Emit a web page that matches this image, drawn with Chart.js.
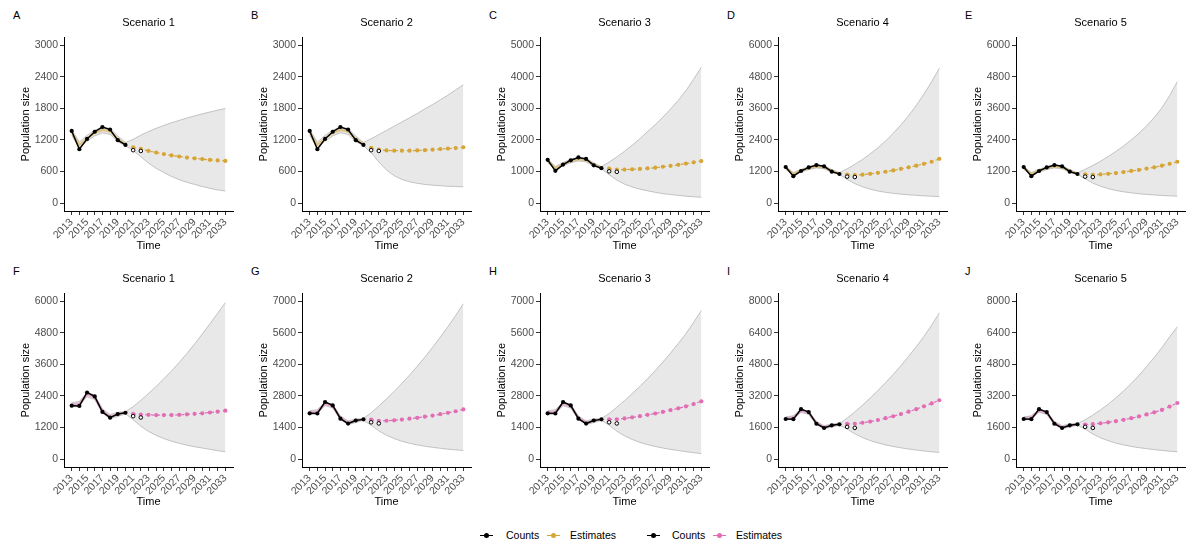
<!DOCTYPE html>
<html>
<head>
<meta charset="utf-8">
<script src="https://cdn.jsdelivr.net/npm/chart.js@4.4.0/dist/chart.umd.min.js"></script>
<style>
  body { margin: 0; background: #fff; font-family: "Liberation Sans", Arial, sans-serif; }
  #wrap { position: relative; width: 1189px; height: 546px; overflow: hidden; }
  .panel { position: absolute; width: 238px; height: 256px; }
  .tag { position: absolute; font-size: 11px; line-height: 11px; color: #000; }
  .legend { position: absolute; top: 529px; font-size: 10.5px; line-height: 12px; color: #000; }
  .key { position: absolute; top: 535px; width: 13px; height: 0; border-top: 1.5px solid #000; }
  .key::after { content: ""; position: absolute; left: 4px; top: -3.3px; width: 5px; height: 5px; border-radius: 50%; background: inherit; }
</style>
</head>
<body>
<div id="wrap"></div>
<script>
// years on the x axis
const years = [2013, 2014, 2015, 2016, 2017, 2018, 2019, 2020, 2021, 2022, 2023,
  2024, 2025, 2026, 2027, 2028, 2029, 2030, 2031, 2032, 2033];
const histYears = years.slice(0, 8);
const foreYears = years.slice(8);
const openYears = [2021, 2022];

// top row (A-E): observed counts and fitted estimates
const countsTop = [1370, 1022, 1219, 1355, 1445, 1397, 1194, 1105];
const openTop = [1005, 990];
const estHistTop = [1340, 1100, 1230, 1330, 1390, 1360, 1220, 1120];
const upperHistTop = [1395, 1160, 1285, 1385, 1445, 1415, 1275, 1150];
const lowerHistTop = [1285, 1045, 1175, 1275, 1335, 1305, 1165, 1090];

// bottom row (F-J)
const countsBottom = [2030, 2020, 2530, 2380, 1790, 1575, 1710, 1760];
const openBottom = [1630, 1580];
const estHistBottom = [2060, 2110, 2450, 2340, 1830, 1610, 1700, 1760];
const upperHistBottom = [2140, 2190, 2530, 2420, 1910, 1690, 1780, 1800];
const lowerHistBottom = [1980, 2030, 2370, 2260, 1750, 1530, 1620, 1720];

// forecasts 2021-2033 per panel
const estA = [1060, 1030, 990, 960, 930, 905, 885, 865, 850, 835, 820, 810, 800];
const upperA = [1210, 1290, 1360, 1420, 1475, 1525, 1570, 1615, 1655, 1695, 1730, 1765, 1795];
const lowerA = [1000, 880, 760, 660, 580, 505, 445, 395, 355, 315, 280, 250, 230];

const estB = [1050, 1015, 1000, 995, 995, 995, 1000, 1005, 1015, 1025, 1035, 1045, 1060];
const upperB = [1220, 1300, 1380, 1460, 1540, 1620, 1700, 1790, 1870, 1960, 2050, 2150, 2245];
const lowerB = [960, 780, 630, 520, 450, 405, 375, 355, 340, 330, 320, 315, 310];

const estC = [1090, 1060, 1060, 1070, 1080, 1100, 1120, 1150, 1180, 1210, 1250, 1290, 1330];
const upperC = [1300, 1460, 1640, 1830, 2040, 2260, 2480, 2720, 2980, 3250, 3560, 3920, 4300];
const lowerC = [900, 730, 600, 510, 440, 390, 340, 300, 270, 245, 220, 200, 185];

const estD = [1080, 1060, 1080, 1110, 1150, 1190, 1240, 1300, 1360, 1420, 1490, 1570, 1680];
const upperD = [1300, 1470, 1660, 1870, 2100, 2360, 2650, 2970, 3320, 3710, 4140, 4610, 5120];
const lowerD = [900, 740, 620, 530, 460, 410, 370, 340, 315, 295, 275, 260, 245];

const estE = [1090, 1070, 1090, 1110, 1140, 1180, 1220, 1260, 1310, 1360, 1420, 1490, 1570];
const upperE = [1280, 1430, 1590, 1770, 1960, 2170, 2400, 2650, 2930, 3250, 3620, 4080, 4610];
const lowerE = [920, 760, 640, 550, 480, 430, 390, 355, 330, 310, 290, 275, 265];

const estF = [1720, 1690, 1680, 1670, 1670, 1670, 1680, 1700, 1720, 1740, 1770, 1800, 1840];
const upperF = [1990, 2230, 2490, 2760, 3050, 3350, 3670, 4010, 4370, 4750, 5140, 5540, 5940];
const lowerF = [1500, 1250, 1050, 900, 780, 680, 600, 530, 470, 420, 370, 320, 280];

const estG = [1750, 1700, 1700, 1720, 1750, 1790, 1830, 1880, 1930, 1990, 2050, 2120, 2200];
const upperG = [2050, 2350, 2670, 3000, 3350, 3720, 4110, 4520, 4950, 5400, 5870, 6360, 6880];
const lowerG = [1500, 1250, 1060, 910, 790, 700, 630, 570, 520, 480, 440, 410, 385];

const estH = [1760, 1760, 1800, 1850, 1900, 1960, 2020, 2090, 2170, 2250, 2340, 2440, 2560];
const upperH = [2020, 2300, 2590, 2900, 3220, 3560, 3920, 4300, 4700, 5120, 5560, 6060, 6580];
const lowerH = [1500, 1240, 1030, 870, 740, 640, 560, 490, 430, 380, 330, 285, 245];

const estI = [1780, 1790, 1840, 1900, 1980, 2070, 2170, 2280, 2400, 2530, 2670, 2820, 2980];
const upperI = [2070, 2390, 2730, 3090, 3470, 3870, 4290, 4730, 5200, 5690, 6210, 6780, 7400];
const lowerI = [1520, 1280, 1090, 940, 820, 720, 640, 570, 510, 460, 410, 370, 340];

const estJ = [1750, 1770, 1810, 1860, 1920, 1990, 2070, 2160, 2260, 2370, 2490, 2660, 2840];
const upperJ = [1990, 2230, 2490, 2780, 3100, 3450, 3830, 4240, 4680, 5150, 5650, 6190, 6700];
const lowerJ = [1520, 1270, 1080, 930, 810, 720, 640, 580, 530, 480, 440, 400, 370];

// y axis ticks per panel
const ticksA = [0, 600, 1200, 1800, 2400, 3000];
const ticksC = [0, 1000, 2000, 3000, 4000, 5000];
const ticksD = [0, 1200, 2400, 3600, 4800, 6000];
const ticksG = [0, 1400, 2800, 4200, 5600, 7000];
const ticksI = [0, 1600, 3200, 4800, 6400, 8000];

const rows = [
  { counts: countsTop, open: openTop, est: estHistTop, upper: upperHistTop, lower: lowerHistTop,
    color: '#d6a535', faint: 'rgba(214,165,53,0.55)' },
  { counts: countsBottom, open: openBottom, est: estHistBottom, upper: upperHistBottom, lower: lowerHistBottom,
    color: '#e26db4', faint: 'rgba(226,109,180,0.5)' }
];

const panels = [
  { tag: 'A', title: 'Scenario 1', row: 0, col: 0, ticks: ticksA, est: estA, upper: upperA, lower: lowerA },
  { tag: 'B', title: 'Scenario 2', row: 0, col: 1, ticks: ticksA, est: estB, upper: upperB, lower: lowerB },
  { tag: 'C', title: 'Scenario 3', row: 0, col: 2, ticks: ticksC, est: estC, upper: upperC, lower: lowerC },
  { tag: 'D', title: 'Scenario 4', row: 0, col: 3, ticks: ticksD, est: estD, upper: upperD, lower: lowerD },
  { tag: 'E', title: 'Scenario 5', row: 0, col: 4, ticks: ticksD, est: estE, upper: upperE, lower: lowerE },
  { tag: 'F', title: 'Scenario 1', row: 1, col: 0, ticks: ticksD, est: estF, upper: upperF, lower: lowerF },
  { tag: 'G', title: 'Scenario 2', row: 1, col: 1, ticks: ticksG, est: estG, upper: upperG, lower: lowerG },
  { tag: 'H', title: 'Scenario 3', row: 1, col: 2, ticks: ticksG, est: estH, upper: upperH, lower: lowerH },
  { tag: 'I', title: 'Scenario 4', row: 1, col: 3, ticks: ticksI, est: estI, upper: upperI, lower: lowerI },
  { tag: 'J', title: 'Scenario 5', row: 1, col: 4, ticks: ticksI, est: estJ, upper: upperJ, lower: lowerJ }
];

const FONT = '"Liberation Sans", Arial, sans-serif';
const wrap = document.getElementById('wrap');

function pts(xs, ys) {
  return ys.map((y, i) => ({ x: xs[i], y: y }));
}

function axisGrid() {
  return { drawOnChartArea: false, tickLength: 4, color: '#333', tickWidth: 1 };
}

function makePanel(p) {
  const r = rows[p.row];
  const left = p.col * 238;
  const top = p.row * 256;

  const tag = document.createElement('div');
  tag.className = 'tag';
  tag.textContent = p.tag;
  tag.style.left = (left + 13) + 'px';
  tag.style.top = (top + 10) + 'px';
  wrap.appendChild(tag);

  const box = document.createElement('div');
  box.className = 'panel';
  box.style.left = left + 'px';
  box.style.top = top + 'px';
  const canvas = document.createElement('canvas');
  canvas.width = 238;
  canvas.height = 256;
  box.appendChild(canvas);
  wrap.appendChild(box);

  const yMax = p.ticks[p.ticks.length - 1];

  new Chart(canvas, {
    type: 'line',
    data: {
      datasets: [
        // ribbon (drawn underneath: highest order)
        { data: pts(years, r.lower.concat(p.lower)), borderColor: '#b5b5b5', borderWidth: 0.8,
          pointRadius: 0, fill: false, order: 6 },
        { data: pts(years, r.upper.concat(p.upper)), borderColor: '#b5b5b5', borderWidth: 0.8,
          pointRadius: 0, fill: '-1', backgroundColor: '#e8e8e8', order: 5 },
        // fitted estimates and forecast
        { data: pts(histYears, r.est), borderColor: r.faint, borderWidth: 2.2, pointRadius: 0, order: 4 },
        { data: pts(foreYears, p.est), borderColor: r.color, borderWidth: 1.2, borderDash: [3, 3],
          pointRadius: 2.1, pointBorderWidth: 0, pointBackgroundColor: r.color, order: 3 },
        // counts
        { data: pts(histYears, r.counts), borderColor: '#000', borderWidth: 1.5,
          pointRadius: 2.1, pointBorderWidth: 0, pointBackgroundColor: '#000', order: 2 },
        { data: pts(openYears, r.open), showLine: false, pointRadius: 1.8,
          pointBorderWidth: 1, pointBorderColor: '#000', pointBackgroundColor: '#fff', order: 1 }
      ]
    },
    options: {
      responsive: false,
      animation: false,
      layout: { padding: { left: 0, right: 1, top: 0, bottom: 0 } },
      plugins: {
        legend: { display: false },
        tooltip: { enabled: false },
        filler: { drawTime: 'beforeDatasetsDraw' },
        title: { display: true, fullSize: false, text: p.title, color: '#000',
          font: { size: 11, family: FONT, weight: 'normal' }, padding: { top: 16, bottom: 8 } }
      },
      scales: {
        x: {
          type: 'linear', min: 2012, max: 2034,
          afterBuildTicks: (s) => { s.ticks = years.map((v) => ({ value: v })); },
          afterFit: (s) => { s.height = 45; },
          ticks: {
            autoSkip: false, minRotation: 45, maxRotation: 45, padding: 1,
            color: '#4d4d4d', font: { size: 10.5, family: FONT },
            callback: (v) => ((v - 2013) % 2 === 0 ? String(v) : '')
          },
          grid: axisGrid(),
          border: { color: '#000', width: 1 },
          title: { display: true, text: 'Time', color: '#000',
            font: { size: 11, family: FONT }, padding: { top: 0, bottom: 3 } }
        },
        y: {
          min: -0.05 * yMax, max: 1.05 * yMax,
          afterBuildTicks: (s) => { s.ticks = p.ticks.map((v) => ({ value: v })); },
          afterFit: (s) => { s.width = 64; },
          ticks: { autoSkip: false, padding: 2, color: '#4d4d4d', font: { size: 10.5, family: FONT },
            callback: (v) => String(v) },
          grid: axisGrid(),
          border: { color: '#000', width: 1 },
          title: { display: true, text: 'Population size', color: '#000',
            font: { size: 11, family: FONT }, padding: { top: 19, bottom: 0 } }
        }
      }
    }
  });
}

panels.forEach((p) => {
  makePanel(p);
});

// shared legend below the panels
const legendItems = [
  { key: 480, text: 506, label: 'Counts', color: '#000' },
  { key: 547, text: 570, label: 'Estimates', color: rows[0].color },
  { key: 647, text: 672, label: 'Counts', color: '#000' },
  { key: 713, text: 736, label: 'Estimates', color: rows[1].color }
];
legendItems.forEach((it) => {
  const k = document.createElement('div');
  k.className = 'key';
  k.style.left = it.key + 'px';
  k.style.borderTopColor = it.color;
  k.style.background = it.color;
  wrap.appendChild(k);
  const t = document.createElement('div');
  t.className = 'legend';
  t.style.left = it.text + 'px';
  t.textContent = it.label;
  wrap.appendChild(t);
});
</script>
</body>
</html>
